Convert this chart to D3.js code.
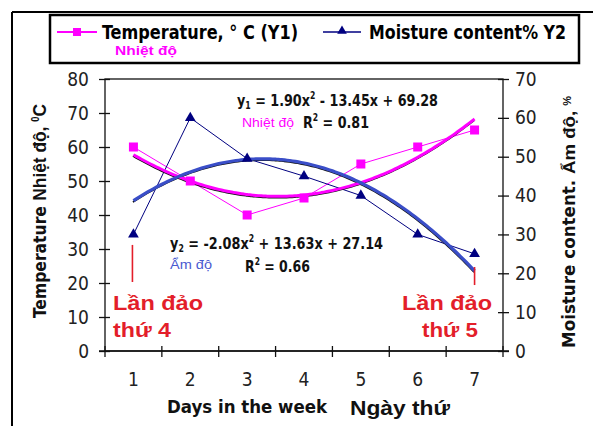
<!DOCTYPE html>
<html><head><meta charset="utf-8">
<script src="https://cdn.jsdelivr.net/npm/d3@7/dist/d3.min.js"></script>
<style>
html,body{margin:0;padding:0;background:#fff;}
svg{display:block;}
</style></head>
<body>
<svg id="chart" width="593" height="426"></svg>
<script>
// ---- data ----
const days = [1, 2, 3, 4, 5, 6, 7];
const temperature = [60, 50, 40, 45, 55, 60, 65];       // left axis, °C
const moisture = [30, 60, 49.5, 45, 40, 30, 25];          // right axis, %
const leftTicks = [0, 10, 20, 30, 40, 50, 60, 70, 80];
const rightTicks = [0, 10, 20, 30, 40, 50, 60, 70];
const tempTrendCoef = [1.90, -13.45, 69.28];   // y1 = a x^2 + b x + c
const moistTrendCoef = [-2.08, 13.63, 27.14];  // y2 = a x^2 + b x + c

const NARROW = '"Liberation Sans Narrow","Arial Narrow","DejaVu Sans Condensed",sans-serif';
const ARIAL = '"Liberation Sans",Arial,sans-serif';
const MAG = '#ff00ff', NAVY = '#000080', TBLUE = '#3a4ec8', RED = '#e31e2a';

const svg = d3.select('#chart');
const L = 105, R = 503, T = 79, B = 351;

const x = d3.scaleBand().domain(days).range([L, R]).padding(0);
const bw = x.bandwidth();
const xc = d => x(d) + bw / 2;
const xCont = d3.scaleLinear().domain([days[0], days[days.length - 1]])
  .range([xc(days[0]), xc(days[days.length - 1])]);
const yL = d3.scaleLinear().domain([0, 80]).range([B, T]);
const yR = d3.scaleLinear().domain([0, 70]).range([B, T]);

// outer frame
svg.append('line').attr('x1', 12).attr('x2', 593).attr('y1', 12).attr('y2', 12).attr('stroke', '#000').attr('stroke-width', 2);
svg.append('line').attr('x1', 12).attr('x2', 12).attr('y1', 12).attr('y2', 426).attr('stroke', '#000').attr('stroke-width', 2);

// legend box
svg.append('rect').attr('x', 50).attr('y', 15).attr('width', 529).attr('height', 48)
  .attr('fill', '#fff').attr('stroke', '#000').attr('stroke-width', 2.5);
// legend: temperature
svg.append('line').attr('x1', 57).attr('x2', 97).attr('y1', 32).attr('y2', 32).attr('stroke', MAG).attr('stroke-width', 2);
svg.append('rect').attr('x', 73).attr('y', 28).attr('width', 8).attr('height', 8).attr('fill', MAG);
svg.append('text').attr('x', 102).attr('y', 39).attr('font-family', NARROW).attr('font-weight', 'bold')
  .attr('font-size', 20).attr('textLength', 196).attr('lengthAdjust', 'spacingAndGlyphs')
  .text('Temperature, \u00b0 C (Y1)');
svg.append('text').attr('x', 115).attr('y', 55).attr('font-family', ARIAL).attr('font-weight', 'bold')
  .attr('font-size', 13.5).attr('fill', MAG).attr('textLength', 62).attr('lengthAdjust', 'spacingAndGlyphs')
  .text('Nhiệt độ');
// legend: moisture
svg.append('line').attr('x1', 323).attr('x2', 361).attr('y1', 32).attr('y2', 32).attr('stroke', NAVY).attr('stroke-width', 1.5);
svg.append('path').attr('d', d3.symbol(d3.symbolTriangle, 40)()).attr('transform', 'translate(342,31)').attr('fill', NAVY);
svg.append('text').attr('x', 369).attr('y', 39).attr('font-family', NARROW).attr('font-weight', 'bold')
  .attr('font-size', 20).attr('textLength', 197).attr('lengthAdjust', 'spacingAndGlyphs')
  .text('Moisture content% Y2');

// plot border
svg.append('rect').attr('x', L).attr('y', T).attr('width', R - L).attr('height', B - T)
  .attr('fill', 'none').attr('stroke', '#111').attr('stroke-width', 1.3);

// left axis
const gL = svg.append('g').attr('transform', `translate(${L},0)`)
  .call(d3.axisLeft(yL).tickValues(leftTicks).tickSize(5).tickPadding(11));
gL.select('.domain').remove();
gL.selectAll('.tick line').attr('x1', -6).attr('x2', 5).attr('stroke', '#111').attr('stroke-width', 1.3);
gL.selectAll('.tick text').attr('font-family', NARROW).attr('font-size', 19).attr('fill', '#222');

// right axis
const gR = svg.append('g').attr('transform', `translate(${R},0)`)
  .call(d3.axisRight(yR).tickValues(rightTicks).tickSize(5).tickPadding(7));
gR.select('.domain').remove();
gR.selectAll('.tick line').attr('x1', -5).attr('x2', 6).attr('stroke', '#111').attr('stroke-width', 1.3);
gR.selectAll('.tick text').attr('font-family', NARROW).attr('font-size', 19).attr('fill', '#222');

// bottom axis (ticks between categories)
const gB = svg.append('g').attr('transform', `translate(0,${B})`)
  .call(d3.axisBottom(x).tickSize(0).tickPadding(22));
gB.select('.domain').remove();
gB.selectAll('.tick text').attr('font-family', NARROW).attr('font-size', 19).attr('fill', '#222');
svg.append('line').attr('x1', L - 6).attr('x2', R + 6).attr('y1', B).attr('y2', B).attr('stroke', '#111').attr('stroke-width', 1.3);
const bounds = days.map(d => x(d)).concat([x(days[days.length - 1]) + bw]);
svg.append('g').selectAll('line').data(bounds).join('line')
  .attr('x1', d => d).attr('x2', d => d).attr('y1', B - 5).attr('y2', B + 6)
  .attr('stroke', '#111').attr('stroke-width', 1.3);

// axis titles
const lt = svg.append('text').attr('transform', 'translate(46,211) rotate(-90)').attr('text-anchor', 'middle')
  .attr('font-family', ARIAL).attr('font-weight', 'bold').attr('font-size', 18.5).attr('fill', '#111')
  .attr('textLength', 214).attr('lengthAdjust', 'spacingAndGlyphs');
lt.append('tspan').attr('font-family', NARROW).text('Temperature  ');
lt.append('tspan').text('Nhiệt độ, ');
lt.append('tspan').attr('font-size', 10).attr('dy', -7).text('0');
lt.append('tspan').attr('dy', 7).text('C');

const rt = svg.append('text').attr('transform', 'translate(575,222) rotate(-90)').attr('text-anchor', 'middle')
  .attr('font-family', ARIAL).attr('font-weight', 'bold').attr('font-size', 17).attr('fill', '#111')
  .attr('textLength', 252).attr('lengthAdjust', 'spacingAndGlyphs');
rt.append('tspan').attr('font-family', NARROW).text('Moisture content.  ');
rt.append('tspan').text('Ẩm độ, ');
rt.append('tspan').attr('font-size', 10).attr('dy', -4).text('%');

svg.append('text').attr('x', 167).attr('y', 413).attr('font-family', NARROW).attr('font-weight', 'bold')
  .attr('font-size', 18).attr('fill', '#111').attr('textLength', 160).attr('lengthAdjust', 'spacingAndGlyphs')
  .text('Days in the week');
svg.append('text').attr('x', 350).attr('y', 415).attr('font-family', ARIAL).attr('font-weight', 'bold')
  .attr('font-size', 20).attr('fill', '#111').attr('textLength', 100).attr('lengthAdjust', 'spacingAndGlyphs')
  .text('Ngày thứ');

// trend lines from printed coefficients
const poly = (c, t) => c[0] * t * t + c[1] * t + c[2];
const tSteps = d3.range(days[0], days[days.length - 1] + 0.001, 0.05);
const tempTrend = tSteps.map(t => [xCont(t), yL(poly(tempTrendCoef, t))]);
const moistTrend = tSteps.map(t => [xCont(t), yR(poly(moistTrendCoef, t))]);
const lineGen = d3.line().curve(d3.curveBasis);

// data series lines
const tempLine = d3.line().x((d, i) => xc(days[i])).y(d => yL(d));
const moistLine = d3.line().x((d, i) => xc(days[i])).y(d => yR(d));
svg.append('path').attr('d', tempLine(temperature)).attr('fill', 'none').attr('stroke', MAG).attr('stroke-width', 1);
svg.append('path').attr('d', moistLine(moisture)).attr('fill', 'none').attr('stroke', NAVY).attr('stroke-width', 1);

// trend shadows + trends
svg.append('path').attr('d', lineGen(tempTrend)).attr('transform', 'translate(-0.5,1.4)').attr('fill', 'none').attr('stroke', '#111').attr('stroke-width', 1.6);
svg.append('path').attr('d', lineGen(moistTrend)).attr('transform', 'translate(-0.5,1.4)').attr('fill', 'none').attr('stroke', '#111').attr('stroke-width', 1.6);
svg.append('path').attr('d', lineGen(tempTrend)).attr('fill', 'none').attr('stroke', MAG).attr('stroke-width', 3);
svg.append('path').attr('d', lineGen(moistTrend)).attr('fill', 'none').attr('stroke', TBLUE).attr('stroke-width', 3.2);

// markers
svg.append('g').selectAll('rect').data(temperature).join('rect')
  .attr('x', (d, i) => xc(days[i]) - 4.5).attr('y', d => yL(d) - 4.5).attr('width', 9).attr('height', 9).attr('fill', MAG);
svg.append('g').selectAll('path').data(moisture).join('path')
  .attr('d', d3.symbol(d3.symbolTriangle, 50)())
  .attr('transform', (d, i) => `translate(${xc(days[i])},${yR(d)})`).attr('fill', NAVY);

// equations
const eq1 = svg.append('text').attr('x', 237).attr('y', 106).attr('font-family', NARROW).attr('font-weight', 'bold')
  .attr('font-size', 16.5).attr('fill', '#111').attr('textLength', 201).attr('lengthAdjust', 'spacingAndGlyphs');
eq1.append('tspan').text('y');
eq1.append('tspan').attr('font-size', 10).attr('dy', 3).text('1');
eq1.append('tspan').attr('dy', -3).text(' = ' + tempTrendCoef[0].toFixed(2) + 'x');
eq1.append('tspan').attr('font-size', 10).attr('dy', -7).text('2');
eq1.append('tspan').attr('dy', 7).text(' - ' + Math.abs(tempTrendCoef[1]).toFixed(2) + 'x + ' + tempTrendCoef[2].toFixed(2));
svg.append('text').attr('x', 242).attr('y', 127).attr('font-family', ARIAL).attr('font-size', 13.5).attr('fill', MAG)
  .attr('textLength', 52).attr('lengthAdjust', 'spacingAndGlyphs').text('Nhiệt độ');
const r1 = svg.append('text').attr('x', 303).attr('y', 128).attr('font-family', NARROW).attr('font-weight', 'bold')
  .attr('font-size', 16.5).attr('fill', '#111').attr('textLength', 66).attr('lengthAdjust', 'spacingAndGlyphs');
r1.append('tspan').text('R');
r1.append('tspan').attr('font-size', 10).attr('dy', -7).text('2');
r1.append('tspan').attr('dy', 7).text(' = 0.81');

const eq2 = svg.append('text').attr('x', 170).attr('y', 249).attr('font-family', NARROW).attr('font-weight', 'bold')
  .attr('font-size', 16.5).attr('fill', '#111').attr('textLength', 213).attr('lengthAdjust', 'spacingAndGlyphs');
eq2.append('tspan').text('y');
eq2.append('tspan').attr('font-size', 10).attr('dy', 3).text('2');
eq2.append('tspan').attr('dy', -3).text(' = ' + moistTrendCoef[0].toFixed(2) + 'x');
eq2.append('tspan').attr('font-size', 10).attr('dy', -7).text('2');
eq2.append('tspan').attr('dy', 7).text(' + ' + moistTrendCoef[1].toFixed(2) + 'x + ' + moistTrendCoef[2].toFixed(2));
svg.append('text').attr('x', 170).attr('y', 269).attr('font-family', ARIAL).attr('font-size', 13.5).attr('fill', '#4a5ad0')
  .attr('textLength', 42).attr('lengthAdjust', 'spacingAndGlyphs').text('Ẩm độ');
const r2 = svg.append('text').attr('x', 245).attr('y', 272).attr('font-family', NARROW).attr('font-weight', 'bold')
  .attr('font-size', 16.5).attr('fill', '#111').attr('textLength', 65).attr('lengthAdjust', 'spacingAndGlyphs');
r2.append('tspan').text('R');
r2.append('tspan').attr('font-size', 10).attr('dy', -7).text('2');
r2.append('tspan').attr('dy', 7).text(' = 0.66');

// red annotations
svg.append('line').attr('x1', xc(1) - 1).attr('x2', xc(1) - 1).attr('y1', yL(31.2)).attr('y2', yL(20.3)).attr('stroke', RED).attr('stroke-width', 1.6);
svg.append('line').attr('x1', xc(7)).attr('x2', xc(7)).attr('y1', yL(24.7)).attr('y2', yL(19.4)).attr('stroke', RED).attr('stroke-width', 1.6);
const redText = (tx, ty, w, s) => svg.append('text').attr('x', tx).attr('y', ty).attr('font-family', ARIAL)
  .attr('font-weight', 'bold').attr('font-size', 20.5).attr('fill', RED)
  .attr('textLength', w).attr('lengthAdjust', 'spacingAndGlyphs').text(s);
redText(113, 310, 90, 'Lần đảo');
redText(113, 337, 58, 'thứ 4');
redText(402, 310, 90, 'Lần đảo');
redText(422, 337, 56, 'thứ 5');
</script>
</body></html>
